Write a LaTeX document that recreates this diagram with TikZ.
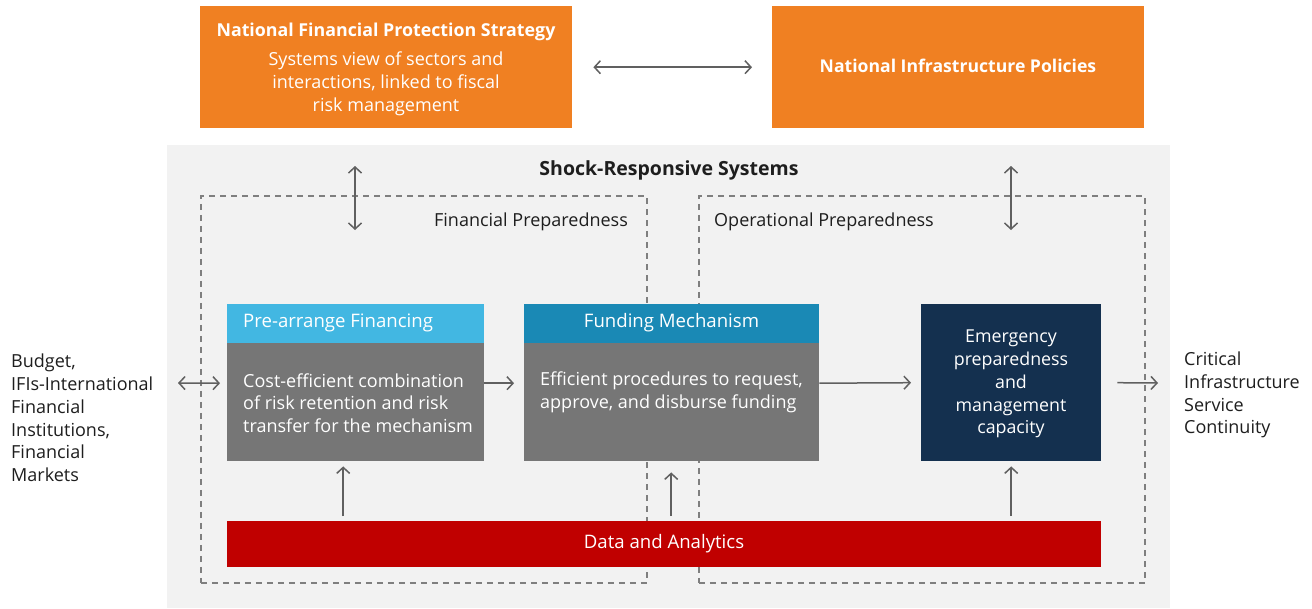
\documentclass[tikz,border=0pt]{standalone}
\usepackage{fontspec}
\setmainfont{Open Sans}
\usetikzlibrary{arrows.meta}
\definecolor{orng}{HTML}{F08022}
\definecolor{bggray}{HTML}{F2F2F2}
\definecolor{lblue}{HTML}{42B7E2}
\definecolor{dblue}{HTML}{1A89B5}
\definecolor{bodygray}{HTML}{767676}
\definecolor{navy}{HTML}{14304F}
\definecolor{dred}{HTML}{C00000}
\definecolor{arrgray}{HTML}{606060}
\definecolor{dashgray}{HTML}{7F7F7F}
\definecolor{txt}{HTML}{1E1E1E}
\newcommand{\fs}{\fontsize{18}{22.8}\selectfont}
\newcommand{\fsz}[1]{\fontsize{#1}{22.8}\selectfont}
\begin{document}
\begin{tikzpicture}[x=1pt,y=-1pt,
  box/.style={draw=none, inner sep=0pt, anchor=north west},
  lbl/.style={inner sep=0pt, font=\fs, text=txt},
  wlbl/.style={inner sep=0pt, font=\fs, text=white},
  conn/.style={draw=arrgray, line width=1.5pt, -{Straight Barb[length=6pt,width=13pt]}},
  dconn/.style={draw=arrgray, line width=1.5pt, {Straight Barb[length=6pt,width=13pt]}-{Straight Barb[length=6pt,width=13pt]}},
  dashbox/.style={draw=dashgray, line width=1.6pt, dash pattern=on 6pt off 5pt}]
\useasboundingbox (0,0) rectangle (1312,608);
\fill[white] (0,0) rectangle (1312,608);
% background region
\node[box, fill=bggray, minimum width=1003pt, minimum height=463pt] (bg) at (167,145) {};
\node[lbl, font=\fsz{19.5}\bfseries] (srs) at (669,170) {Shock-Responsive Systems};
% dashed groups
\node[box, dashbox, minimum width=446pt, minimum height=387pt] (fingrp) at (200,195) {};
\node[box, dashbox, minimum width=446pt, minimum height=387pt] (opgrp) at (698,195) {};
\node[lbl] (finlbl) at (531,222) {Financial Preparedness};
\node[lbl, anchor=west] (oplbl) at (714,222) {Operational Preparedness};
% top boxes
\node[box, fill=orng, minimum width=372pt, minimum height=122pt] (nfps) at (200,6) {};
\node[wlbl, font=\fsz{17.8}\bfseries] (nfpst) at (386,32) {National Financial Protection Strategy};
\node[wlbl, align=center] (nfpsb) at (386,84) {Systems view of sectors and\\interactions, linked to fiscal\\risk management};
\node[box, fill=orng, minimum width=372pt, minimum height=122pt] (nip) at (772,6) {};
\node[wlbl, font=\fsz{17.6}\bfseries] (nipt) at (958,66) {National Infrastructure Policies};
% pre-arrange financing
\node[box, fill=lblue, minimum width=257pt, minimum height=39pt] (prehd) at (227,304) {};
\node[wlbl, anchor=west, font=\fsz{18.6}] (prehdt) at (243,323) {Pre-arrange Financing};
\node[box, fill=bodygray, minimum width=257pt, minimum height=118pt] (prebody) at (227,343) {};
\node[wlbl, anchor=west, align=left] (prebodyt) at (243,403) {Cost-efficient combination\\of risk retention and risk\\transfer for the mechanism};
% funding mechanism
\node[box, fill=dblue, minimum width=295pt, minimum height=39pt] (funhd) at (524,304) {};
\node[wlbl, font=\fsz{18.6}] (funhdt) at (671.5,323) {Funding Mechanism};
\node[box, fill=bodygray, minimum width=295pt, minimum height=118pt] (funbody) at (524,343) {};
\node[wlbl, anchor=west, align=left] (funbodyt) at (540,392) {Efficient procedures to request,\\approve, and disburse funding};
% emergency
\node[box, fill=navy, minimum width=180pt, minimum height=157pt] (emg) at (921,304) {};
\node[wlbl, align=center, font=\fsz{17.8}] (emgt) at (1011,384) {Emergency\\preparedness\\and\\management\\capacity};
% data and analytics
\node[box, fill=dred, minimum width=874pt, minimum height=46pt] (data) at (227,521) {};
\node[wlbl, font=\fsz{18.6}] (datat) at (664,544) {Data and Analytics};
% outside labels
\node[lbl, anchor=west, align=left] (budget) at (11,418) {Budget,\\IFIs-International\\Financial\\Institutions,\\Financial\\Markets};
\node[lbl, anchor=west, align=left] (crit) at (1184,395) {Critical\\Infrastructure\\Service\\Continuity};
% free-end coordinates
\coordinate (vA1) at (355,166);
\coordinate (vA2) at (355,230);
\coordinate (vB1) at (1011,166);
\coordinate (vB2) at (1011,230);
\coordinate (lA) at (178,383);
\coordinate (rB) at (1158,383);
% connectors
\draw[dconn] ([xshift=21pt]nfps.east) -- ([xshift=-20pt]nip.west);
\draw[dconn] (vA1) -- (vA2);
\draw[dconn] (vB1) -- (vB2);
\draw[dconn] (lA) -- ([xshift=-7pt,yshift=19pt]prebody.west);
\draw[conn] ([yshift=19pt]prebody.east) -- ([xshift=-10pt,yshift=19pt]funbody.west);
\draw[conn] ([yshift=19pt]funbody.east) -- ([xshift=-10pt]emg.west);
\draw[conn] ([xshift=16pt]emg.east) -- (rB);
\draw[conn] ([xshift=-321pt,yshift=5pt]data.north) -- ([xshift=-12.5pt,yshift=-5pt]prebody.south);
\draw[conn] ([xshift=7pt,yshift=5pt]data.north) -- ([xshift=-0.5pt,yshift=-11pt]funbody.south);
\draw[conn] ([xshift=347pt,yshift=5pt]data.north) -- ([yshift=-5pt]emg.south);
\end{tikzpicture}
\end{document}
